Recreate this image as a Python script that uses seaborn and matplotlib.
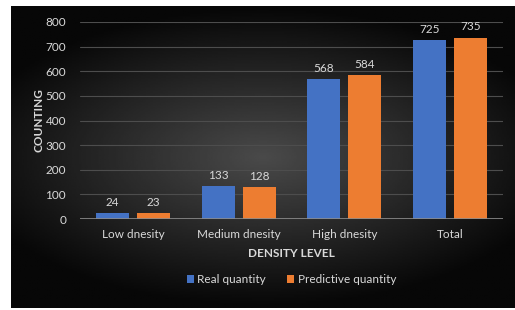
import numpy as np
import pandas as pd
import matplotlib.pyplot as plt
import seaborn as sns

# chart data
categories = ['Low dnesity', 'Medium dnesity', 'High dnesity', 'Total']
real_quantity = [24, 133, 568, 725]
predictive_quantity = [23, 128, 584, 735]
series_names = ['Real quantity', 'Predictive quantity']
y_ticks = [0, 100, 200, 300, 400, 500, 600, 700, 800]

W, H = 515, 310
TXT = '#d9d9d9'

sns.set_theme(style='dark')
plt.rcParams['font.family'] = ['Lato', 'DejaVu Sans']

df = pd.DataFrame({
    'level': categories * 2,
    'count': real_quantity + predictive_quantity,
    'series': [series_names[0]] * 4 + [series_names[1]] * 4,
})

fig = plt.figure(figsize=(W / 100, H / 100), dpi=100)
fig.patch.set_facecolor('white')

# dark radial gradient panel behind the chart
bg = fig.add_axes([11 / W, 2 / H, 1 - 11 / W, 1 - 8 / H])
yy, xx = np.mgrid[-1:1:200j, -1:1:300j]
r = np.sqrt((xx * 0.9) ** 2 + (yy * 1.1) ** 2)
shade = np.clip(0.29 - 0.24 * r, 0.03, 0.29)
bg.imshow(shade, cmap='gray', vmin=0, vmax=1, aspect='auto', extent=[0, 1, 0, 1])
bg.set_axis_off()

ax = fig.add_axes([80 / W, (H - 219) / H, 423 / W, (219 - 22) / H])
ax.patch.set_alpha(0)
sns.barplot(data=df, x='level', y='count', hue='series',
            palette=['#4472C4', '#ED7D31'], width=0.78, gap=0.2,
            saturation=1, linewidth=0, ax=ax, legend=True)

ax.set_ylim(0, 800)
ax.set_xlim(-0.5, 3.5)
ax.set_yticks(y_ticks)
ax.yaxis.grid(True, color='#4d4d4d', linewidth=0.8)
ax.xaxis.grid(False)
ax.set_axisbelow(True)
ax.axhline(0, color='#8c8c8c', linewidth=1.2, zorder=3)
for s in ax.spines.values():
    s.set_visible(False)
ax.tick_params(axis='both', length=0, colors=TXT, labelsize=8.5)
ax.tick_params(axis='y', pad=10)
ax.tick_params(axis='x', pad=7)

for c in ax.containers:
    ax.bar_label(c, padding=4, color=TXT, fontsize=8.5)

ax.set_xlabel('DENSITY LEVEL', color=TXT, fontsize=8.5, fontweight='bold', labelpad=6)
ax.set_ylabel('COUNTING', color=TXT, fontsize=8.5, fontweight='bold', labelpad=1)

leg = ax.legend(loc='upper center', bbox_to_anchor=(0.5, -0.225), ncol=2,
                frameon=False, fontsize=8.5, handlelength=0.6, handleheight=0.6,
                handletextpad=0.3, columnspacing=1.8)
for t in leg.get_texts():
    t.set_color(TXT)
for h in leg.legend_handles:
    h.set_linewidth(0)

fig.savefig('out.png', dpi=100, facecolor=fig.get_facecolor())
